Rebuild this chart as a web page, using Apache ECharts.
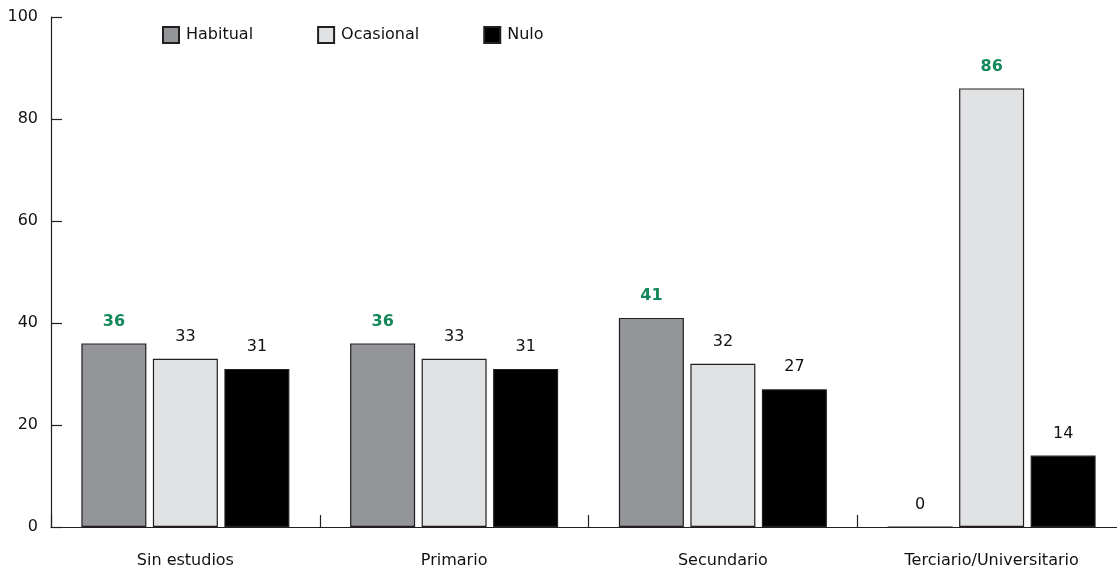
<!DOCTYPE html>
<html>
<head>
<meta charset="utf-8">
<script src="https://cdn.jsdelivr.net/npm/echarts@6/dist/echarts.min.js"></script>
<style>
  html, body { margin: 0; padding: 0; background: #ffffff; overflow: hidden; }
  #chart { width: 1126px; height: 569px; }
</style>
</head>
<body>
<div id="chart"></div>
<script>
// Education level categories and the share (%) for each usage frequency
const categories = ['Sin estudios', 'Primario', 'Secundario', 'Terciario/Universitario'];
const habitual = [36, 36, 41, 0];
const ocasional = [33, 33, 32, 86];
const nulo = [31, 31, 27, 14];
const yTicks = [0, 20, 40, 60, 80, 100];

const FONT = '"DejaVu Sans", sans-serif';
const INK = '#231f20';
const GREEN = '#14885a';

// Highest value within each category is highlighted in green bold
const maxPerCat = categories.map((_, i) => Math.max(habitual[i], ocasional[i], nulo[i]));

function seriesFor(name, values, color) {
  return {
    name: name,
    type: 'bar',
    barWidth: 65,
    barGap: '10%',
    data: values.map((v, i) => {
      const isMax = v === maxPerCat[i];
      return {
        value: v,
        label: isMax ? { color: GREEN, fontWeight: 'bold' } : {}
      };
    }),
    itemStyle: { color: color, borderColor: INK, borderWidth: 1.2 },
    label: {
      show: true,
      position: 'top',
      distance: 14,
      fontFamily: FONT,
      fontSize: 16,
      color: '#111'
    }
  };
}

const chart = echarts.init(document.getElementById('chart'), null, { renderer: 'canvas' });
chart.setOption({
  animation: false,
  textStyle: { fontFamily: FONT },
  legend: {
    left: 162,
    top: 26,
    padding: 0,
    itemWidth: 16,
    itemHeight: 16,
    itemGap: 64,
    icon: 'rect',
    textStyle: { fontFamily: FONT, fontSize: 16, color: '#111', padding: [0, 0, 0, 2] },
    data: ['Habitual', 'Ocasional', 'Nulo']
  },
  grid: { left: 51, top: 17, right: 0, height: 510 },
  xAxis: {
    type: 'category',
    data: categories,
    axisLine: { lineStyle: { color: INK, width: 1.2 } },
    axisTick: { show: true, inside: true, length: 12, lineStyle: { color: INK, width: 1.2 } },
    axisLabel: { fontFamily: FONT, fontSize: 16, color: '#111', margin: 26 }
  },
  yAxis: {
    type: 'value',
    min: yTicks[0],
    max: yTicks[yTicks.length - 1],
    interval: yTicks[1] - yTicks[0],
    splitLine: { show: false },
    axisLine: { show: true, lineStyle: { color: INK, width: 1.2 } },
    axisTick: { show: true, inside: true, length: 11, lineStyle: { color: INK, width: 1.2 } },
    axisLabel: { fontFamily: FONT, fontSize: 16, color: '#111', margin: 13 }
  },
  series: [
    seriesFor('Habitual', habitual, '#939598'),
    seriesFor('Ocasional', ocasional, '#e1e2e4'),
    seriesFor('Nulo', nulo, '#000000')
  ]
});
</script>
</body>
</html>
